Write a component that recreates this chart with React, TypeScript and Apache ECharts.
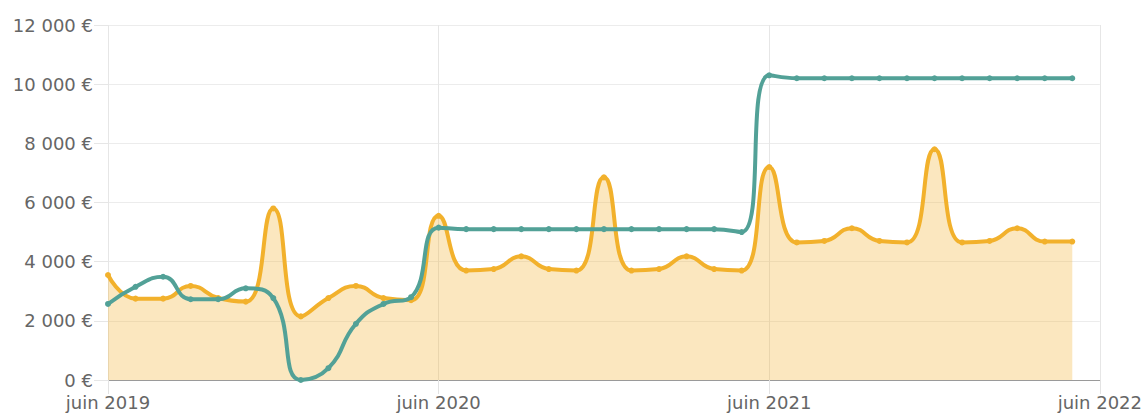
import React, { useEffect, useRef } from "react";
import * as echarts from "echarts";

const months: string[] = [
  "juin 2019", "juil. 2019", "août 2019", "sept. 2019", "oct. 2019", "nov. 2019", "déc. 2019",
  "janv. 2020", "févr. 2020", "mars 2020", "avr. 2020", "mai 2020", "juin 2020", "juil. 2020",
  "août 2020", "sept. 2020", "oct. 2020", "nov. 2020", "déc. 2020",
  "janv. 2021", "févr. 2021", "mars 2021", "avr. 2021", "mai 2021", "juin 2021", "juil. 2021",
  "août 2021", "sept. 2021", "oct. 2021", "nov. 2021", "déc. 2021",
  "janv. 2022", "févr. 2022", "mars 2022", "avr. 2022", "mai 2022", "juin 2022",
];

const orangeValues: number[] = [
  3550, 2750, 2750, 3180, 2770, 2650, 5800,
  2150, 2770, 3180, 2770, 2700, 5550, 3700, 3750, 4180, 3750, 3700, 6850,
  3700, 3750, 4180, 3750, 3700, 7200, 4650, 4700, 5130, 4700, 4650, 7800,
  4650, 4700, 5130, 4680, 4680,
];

const tealValues: number[] = [
  2570, 3150, 3490, 2730, 2730, 3100, 2770,
  0, 400, 1900, 2570, 2800, 5150, 5100, 5100, 5100, 5100, 5100, 5100,
  5100, 5100, 5100, 5100, 5000, 10300, 10200, 10200, 10200, 10200, 10200, 10200,
  10200, 10200, 10200, 10200, 10200,
];

const yTicks = { min: 0, max: 12000, interval: 2000 };

const fmtEuro = (v: number) =>
  String(v).replace(/\B(?=(\d{3})+(?!\d))/g, " ") + " €";

export default function App() {
  const ref = useRef<HTMLDivElement>(null);
  useEffect(() => {
    if (!ref.current) return;
    const chart = echarts.init(ref.current, null, { renderer: "svg" });
    chart.setOption({
      animation: false,
      grid: { left: 108, right: 44, top: 25, bottom: 36, containLabel: false },
      xAxis: {
        type: "category",
        data: months,
        boundaryGap: false,
        axisLine: { show: true, lineStyle: { color: "#9a9a9a", width: 1 } },
        axisTick: { show: true, interval: 11, length: 14, lineStyle: { color: "#e3e3e3" } },
        axisLabel: {
          interval: 11,
          margin: 13,
          fontFamily: "DejaVu Sans",
          fontSize: 18,
          color: "#666",
        },
        splitLine: { show: true, interval: 11, lineStyle: { color: "#e6e6e6" } },
      },
      yAxis: {
        type: "value",
        min: yTicks.min,
        max: yTicks.max,
        interval: yTicks.interval,
        axisLine: { show: false },
        axisTick: { show: true, length: 14, lineStyle: { color: "#e6e6e6" } },
        axisLabel: {
          margin: 15,
          fontFamily: "DejaVu Sans",
          fontSize: 18,
          color: "#666",
          formatter: (v: number) => fmtEuro(v),
        },
        splitLine: { show: true, lineStyle: { color: "#ececec" } },
      },
      series: [
        {
          type: "line",
          data: orangeValues,
          smooth: true,
          symbol: "circle",
          symbolSize: 6,
          lineStyle: { color: "#f2b12c", width: 4 },
          itemStyle: { color: "#f2b12c" },
          areaStyle: { color: "#f2b12c", opacity: 0.3 },
          z: 2,
        },
        {
          type: "line",
          data: tealValues,
          smooth: true,
          symbol: "circle",
          symbolSize: 6,
          lineStyle: { color: "#52a197", width: 4 },
          itemStyle: { color: "#52a197" },
          z: 3,
        },
      ],
    });
    return () => chart.dispose();
  }, []);
  return (
    <div
      ref={ref}
      style={{ position: "fixed", left: 0, top: 0, width: 1145, height: 416, background: "#fff" }}
    />
  );
}
